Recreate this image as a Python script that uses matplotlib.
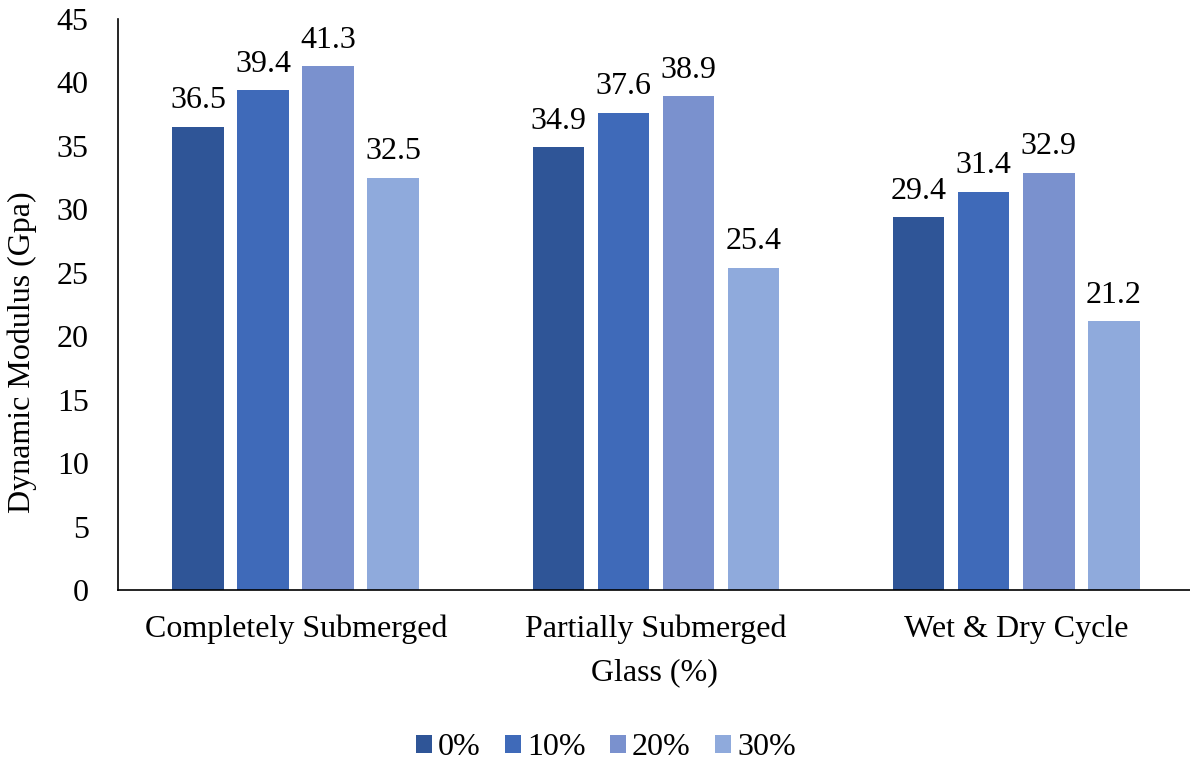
import matplotlib.pyplot as plt
import numpy as np

plt.rcParams['font.family'] = ['Liberation Serif', 'DejaVu Serif']

categories = ["Completely Submerged", "Partially Submerged", "Wet & Dry Cycle"]
series = ["0%", "10%", "20%", "30%"]
glass_0 = [36.5, 34.9, 29.4]
glass_10 = [39.4, 37.6, 31.4]
glass_20 = [41.3, 38.9, 32.9]
glass_30 = [32.5, 25.4, 21.2]
colors = ["#2F5597", "#3F6AB9", "#7A91CE", "#8FAADC"]

fs = 23
fig = plt.figure(figsize=(11.9, 7.63), dpi=100)
ax = fig.add_axes([118 / 1190, 1 - 590 / 763, 1 - 118 / 1190, (590 - 19) / 763])

x = np.arange(len(categories))
width = 0.144
step = 65 / 360
for i, (vals, name) in enumerate(zip([glass_0, glass_10, glass_20, glass_30], series)):
    pos = x + (i - 1.5) * step
    bars = ax.bar(pos, vals, width, color=colors[i], label=name)
    for b, v in zip(bars, vals):
        ax.text(b.get_x() + b.get_width() / 2, v + 0.9, f"{v}", ha="center", va="bottom", fontsize=fs)

ax.set_xlim(-0.494, 2.483)
ax.set_ylim(0, 45)
ax.set_yticks(range(0, 46, 5))
ax.set_xticks(x)
ax.set_xticklabels(categories)
ax.tick_params(axis="both", length=0, labelsize=fs)
ax.tick_params(axis="x", pad=18)
ax.tick_params(axis="y", pad=21)
for s in ["top", "right"]:
    ax.spines[s].set_visible(False)
ax.spines["left"].set_linewidth(1.2)
ax.spines["bottom"].set_linewidth(1.2)

fig.text(22 / 1190, 1 - 352 / 763, "Dynamic Modulus (Gpa)", rotation=90, fontsize=fs,
         ha="center", va="center")
ax.set_xlabel("Glass (%)", fontsize=fs, labelpad=10)

ax.legend(loc="center", bbox_to_anchor=(0.455, -0.276), ncol=4, frameon=False,
          fontsize=fs, handlelength=0.5, handleheight=0.5, handletextpad=0.2, columnspacing=0.75,
          borderpad=0.2)

fig.savefig("out.png", dpi=100)
